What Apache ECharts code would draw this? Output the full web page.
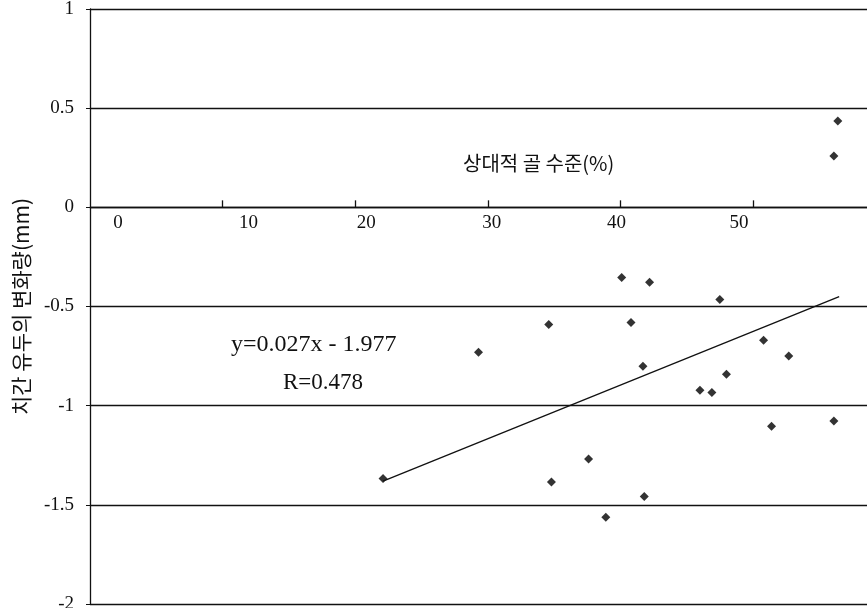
<!DOCTYPE html>
<html><head><meta charset="utf-8">
<script src="https://cdn.jsdelivr.net/npm/echarts@6/dist/echarts.min.js"></script>
<style>html,body{margin:0;padding:0;background:#fff}#c{width:867px;height:608px}</style>
</head><body><div id="c"></div>
<script>
// relative bone level (%)
const boneLevel = [22.1, 29.3, 34.6, 34.8, 37.6, 38.9, 40.1, 40.8, 41.7, 41.8, 42.2, 46.0, 46.9, 47.5, 48.0, 50.8, 51.4, 52.7, 56.1, 56.4, 56.1];
// change of interdental papilla (mm)
const papillaChange = [-1.367, -0.731, -0.591, -1.385, -1.269, -1.563, -0.354, -0.581, -0.801, -1.458, -0.378, -0.922, -0.934, -0.465, -0.842, -0.670, -1.104, -0.750, 0.259, 0.435, -1.077];
// regression line end points
const trendX = [22.1, 56.5];
const trendY = [-1.38, -0.45];
const xTickValues = [0, 10, 20, 30, 40, 50];
const xInnerTicks = [10, 20, 30, 40, 50];
const equationText = 'y=0.027x - 1.977';
const rText = 'R=0.478';
const xName = '상대적 골 수준(%)';
const yName = '치간 유두의 변화량(mm)';

const serif = '"Liberation Serif", "DejaVu Serif", serif';
const kr = '"Noto Sans CJK KR", sans-serif';
const ink = '#111';

const W = 867, H = 608;
const gridTop = 9, gridBottom = 4, gridLeft = 90;
const yMin = -2, yMax = 1;
// move the x axis (line, ticks, labels) up to y = 0
const plotH = H - gridTop - gridBottom;
const zeroOffset = -plotH * (0 - yMin) / (yMax - yMin);

// horizontal nudges of the x tick labels as printed in the source figure (px)
const labelNudge = {0: 28, 10: 26, 20: 11, 30: 4, 40: -4, 50: -14};
const rich = {};
Object.keys(labelNudge).forEach(k => {
  const d = labelNudge[k];
  rich['o' + k] = {
    fontFamily: serif, fontSize: 19, color: ink,
    padding: d >= 0 ? [0, 0, 0, 2 * d] : [0, -2 * d, 0, 0]
  };
});

const chart = echarts.init(document.getElementById('c'), null, {renderer: 'canvas'});
chart.setOption({
  animation: false,
  backgroundColor: '#fff',
  title: [
    {text: xName, left: 458, top: 148, textStyle: {fontFamily: kr, fontSize: 20, fontWeight: 'normal', color: ink}},
    {text: equationText, left: 226, top: 328, textStyle: {fontFamily: serif, fontSize: 24, fontWeight: 'normal', color: ink}},
    {text: rText, left: 278, top: 366, textStyle: {fontFamily: serif, fontSize: 23, fontWeight: 'normal', color: ink}}
  ],
  grid: {left: gridLeft, right: 0, top: gridTop, bottom: gridBottom, containLabel: false, outerBoundsMode: 'none'},
  xAxis: {
    type: 'value', min: 0, max: 58.6, position: 'bottom', offset: zeroOffset,
    axisLine: {show: true, onZero: false, lineStyle: {color: ink, width: 1.3}},
    axisTick: {show: true, inside: true, length: 7, customValues: xInnerTicks, lineStyle: {color: ink, width: 1.3}},
    axisLabel: {
      show: true, customValues: xTickValues, margin: 6,
      fontFamily: serif, fontSize: 19, color: ink,
      formatter: v => '{o' + v + '|' + v + '}',
      rich: rich
    },
    splitLine: {show: false}
  },
  yAxis: {
    type: 'value', min: yMin, max: yMax, interval: 0.5,
    name: yName, nameLocation: 'middle', nameGap: 58, nameRotate: 90,
    nameTextStyle: {fontFamily: kr, fontSize: 21, color: ink},
    axisLine: {show: true, onZero: false, lineStyle: {color: ink, width: 1.3}},
    axisTick: {show: true, length: 4, lineStyle: {color: ink}},
    axisLabel: {margin: 16, fontFamily: serif, fontSize: 19, color: ink},
    splitLine: {show: true, lineStyle: {color: ink, width: 1.3}}
  },
  series: [
    {
      type: 'scatter',
      data: boneLevel.map((x, i) => [x, papillaChange[i]]),
      symbol: 'diamond', symbolSize: 9,
      itemStyle: {color: '#000'}
    },
    {
      type: 'line',
      data: trendX.map((x, i) => [x, trendY[i]]),
      showSymbol: false, symbol: 'none',
      lineStyle: {color: ink, width: 1.3}
    }
  ]
});
</script>
</body></html>
